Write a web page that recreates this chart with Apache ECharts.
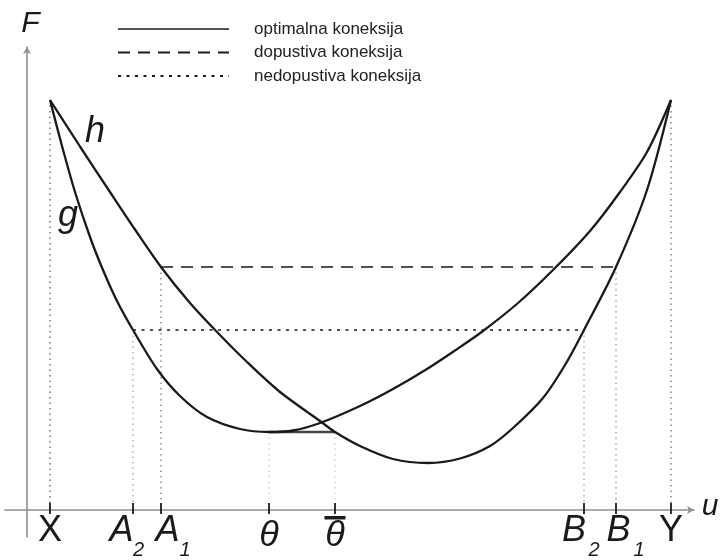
<!DOCTYPE html>
<html>
<head>
<meta charset="utf-8">
<script src="https://cdn.jsdelivr.net/npm/echarts@6/dist/echarts.min.js"></script>
<style>
  html, body { margin: 0; padding: 0; background: #fff; }
  #chart { width: 721px; height: 560px; }
</style>
</head>
<body>
<div id="chart"></div>
<script>
// Cost curve g (u, F)
const gU = [23, 35, 48, 63, 76, 90, 106, 130, 153, 180, 213, 242, 266, 293, 333, 366, 400, 428, 456, 491, 526, 563, 593, 620, 644];
const gF = [410, 364, 318, 273, 240, 209, 180, 141, 114, 93, 81, 78, 79.5, 87, 104, 121, 141, 159.5, 179, 207, 240, 279, 318, 358, 410];

// Cost curve h (u, F)
const hU = [23, 53, 83, 108, 134, 163, 190, 220, 253, 293, 308, 333, 366, 401, 433, 463, 486, 516, 538, 557, 589, 620, 644];
const hF = [410, 363.5, 318, 280.5, 243, 207, 178, 148, 118, 89, 78, 64, 51, 47, 51.5, 64, 82, 112, 145, 180, 243, 320, 410];

// Horizontal connections between the curves
const optimalU = [242, 308];
const optimalF = 78;
const admissibleU = [134, 589];
const admissibleF = 243;
const inadmissibleU = [106, 557];
const inadmissibleF = 180;

// Points marked on the u axis
const tickNames = ['X', 'A', 'A', 'θ', 'θ', 'B', 'B', 'Y'];
const tickSubs = ['', '2', '1', '', '', '2', '1', ''];
const tickU = [23, 106, 134, 242, 308, 557, 589, 644];
const tickTopF = [410, 180, 243, 78, 78, 180, 243, 410];
const tickOverbar = [false, false, false, false, true, false, false, false];

// Free-standing letters
const noteText = ['F', 'u', 'h', 'g'];
const noteU = [3.5, 683, 68, 41];
const noteF = [486, 3, 378, 294];

const legendNames = ['optimalna koneksija', 'dopustiva koneksija', 'nedopustiva koneksija'];

const FONT = 'Arial, "Liberation Sans", sans-serif';
const INK = '#1a1a1a';

// layout of each axis label relative to its tick: main glyph / subscript x-shift
const mainShift = [0, -11.5, 6.5, 0, 0, -10, 2.5, 0];
const subShift = [0, 5.5, 24, 0, 0, 10, 23, 0];
const dropColor = ['#333', '#888', '#555', '#bbb', '#bbb', '#888', '#777', '#444'];
const noteSize = [30, 30, 36, 36];

const pairs = (us, fs) => us.map((u, i) => [u, Array.isArray(fs) ? fs[i] : fs]);

function renderTick(params, api) {
  const i = params.dataIndex;
  const u = api.value(0);
  const top = api.coord([u, api.value(1)]);
  const base = api.coord([u, 0]);
  const x = base[0], y = base[1];
  const name = tickNames[i];
  const italic = name !== 'X' && name !== 'Y';
  const children = [
    { type: 'line', shape: { x1: x, y1: top[1], x2: x, y2: y - 1 },
      style: { stroke: dropColor[i], lineWidth: 1, lineDash: [1.5, 4] } },
    { type: 'line', shape: { x1: x, y1: y - 7, x2: x, y2: y + 4 },
      style: { stroke: INK, lineWidth: 1.8 } },
    { type: 'text', x: x + mainShift[i], y: y + (name === 'θ' ? 26 : 21),
      style: { text: name, font: (italic ? 'italic ' : '') + '36px ' + FONT,
        fill: INK, align: 'center', verticalAlign: 'middle' } }
  ];
  if (tickSubs[i]) {
    children.push({ type: 'text', x: x + subShift[i], y: y + 40,
      style: { text: tickSubs[i], font: 'italic 20px ' + FONT, fill: INK,
        align: 'center', verticalAlign: 'middle' } });
  }
  if (tickOverbar[i]) {
    children.push({ type: 'rect', shape: { x: x - 10.5, y: y + 6, width: 21, height: 3.5 },
      style: { fill: INK } });
  }
  return { type: 'group', children };
}

function renderNote(params, api) {
  const i = params.dataIndex;
  const p = api.coord([api.value(0), api.value(1)]);
  return {
    type: 'text', x: p[0], y: p[1],
    style: { text: noteText[i], font: 'italic ' + noteSize[i] + 'px ' + FONT, fill: INK,
      align: 'center', verticalAlign: 'middle' }
  };
}

const chart = echarts.init(document.getElementById('chart'), null, { renderer: 'canvas' });

const curveLine = { color: INK, width: 2.3 };

chart.setOption({
  animation: false,
  backgroundColor: '#fff',
  grid: { left: 5, right: 27, top: 47, bottom: 23, containLabel: false },
  legend: {
    orient: 'vertical', left: 117, top: 20.5, padding: 0,
    itemWidth: 111, itemHeight: 14, itemGap: 6.5,
    selectedMode: false,
    itemStyle: { opacity: 0 },
    textStyle: { fontFamily: FONT, fontSize: 17, lineHeight: 17, color: '#222', padding: [0, 0, 0, 20] },
    data: [
      { name: legendNames[0], lineStyle: { color: INK, width: 1.3 } },
      { name: legendNames[1] },
      { name: legendNames[2] }
    ]
  },
  xAxis: {
    type: 'value', min: -22, max: 667,
    axisLine: { show: true, onZero: true, symbol: ['none', 'arrow'], symbolSize: [6, 7],
      lineStyle: { color: '#8f8f8f', width: 1.6 } },
    axisTick: { show: false }, axisLabel: { show: false }, splitLine: { show: false }
  },
  yAxis: {
    type: 'value', min: -27, max: 463,
    axisLine: { show: true, onZero: true, symbol: ['none', 'arrow'], symbolSize: [6, 7],
      lineStyle: { color: '#8f8f8f', width: 1.6 } },
    axisTick: { show: false }, axisLabel: { show: false }, splitLine: { show: false }
  },
  series: [
    {
      name: 'axis marks', type: 'custom', renderItem: renderTick, silent: true, z: 1,
      data: pairs(tickU, tickTopF)
    },
    {
      name: legendNames[2], type: 'line', symbol: 'none', z: 2,
      lineStyle: { color: INK, width: 1.4, type: [3, 5.5] },
      data: pairs(inadmissibleU, inadmissibleF)
    },
    {
      name: legendNames[1], type: 'line', symbol: 'none', z: 2,
      lineStyle: { color: INK, width: 1.4, type: [12, 8] },
      data: pairs(admissibleU, admissibleF)
    },
    {
      name: legendNames[0], type: 'line', symbol: 'none', z: 2,
      lineStyle: { color: '#444', width: 2.6 },
      data: pairs(optimalU, optimalF)
    },
    {
      name: 'g', type: 'line', symbol: 'none', smooth: 0.3, z: 3,
      lineStyle: curveLine, data: pairs(gU, gF)
    },
    {
      name: 'h', type: 'line', symbol: 'none', smooth: 0.3, z: 3,
      lineStyle: curveLine, data: pairs(hU, hF)
    },
    {
      name: 'letters', type: 'custom', renderItem: renderNote, silent: true, z: 4,
      data: pairs(noteU, noteF)
    }
  ]
});
</script>
</body>
</html>
